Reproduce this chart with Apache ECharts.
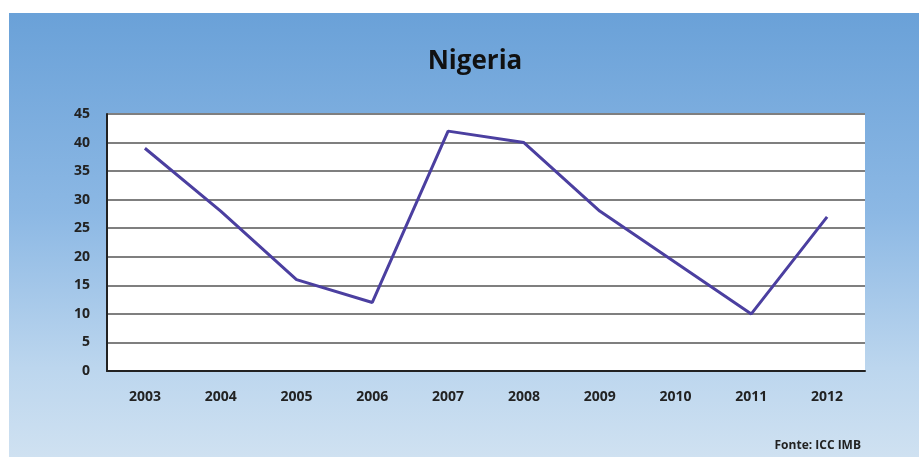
<!DOCTYPE html>
<html><head><meta charset="utf-8">
<script src="https://cdn.jsdelivr.net/npm/echarts@6/dist/echarts.min.js"></script>
<style>
html,body{margin:0;padding:0;background:#fff;width:919px;height:457px;overflow:hidden}
#c{position:absolute;left:9px;top:13px;width:910px;height:444px;background:linear-gradient(180deg,#6aa1d8 0%,#8cb8e4 45%,#bcd6ee 80%,#cfe1f1 100%)}
</style></head><body>
<div id="c"></div>
<script>
const years = ['2003','2004','2005','2006','2007','2008','2009','2010','2011','2012'];
const values = [39, 28, 16, 12, 42, 40, 28, 19, 10, 27];
const yTicks = {min:0, max:45, interval:5};

const chart = echarts.init(document.getElementById('c'), null, {renderer:'canvas'});
chart.setOption({
  animation:false,
  backgroundColor:'transparent',
  title:{text:'Nigeria', left:461, top:31, textAlign:'center',
    textStyle:{fontFamily:'Open Sans', fontWeight:'bold', fontSize:26, color:'#111'}},
  graphic:[{type:'text', right:58, top:427,
    style:{text:'Fonte: ICC IMB', font:'bold 12px "Open Sans"', fill:'#222'}}],
  grid:{left:98, right:54, top:101, bottom:86, show:true, backgroundColor:'#fff', borderWidth:0},
  xAxis:{type:'category', data:years, boundaryGap:true,
    axisLine:{lineStyle:{color:'#222', width:2}},
    axisTick:{show:false},
    axisLabel:{fontFamily:'Open Sans', fontWeight:'bold', fontSize:14, color:'#222', margin:19}},
  yAxis:{type:'value', min:yTicks.min, max:yTicks.max, interval:yTicks.interval,
    axisLine:{show:true, lineStyle:{color:'#222', width:2}},
    axisTick:{show:false},
    splitLine:{lineStyle:{color:'#7f7f7f', width:1.8}},
    axisLabel:{fontFamily:'Open Sans', fontWeight:'bold', fontSize:14, color:'#222', margin:17}},
  series:[{type:'line', data:values, symbol:'none',
    lineStyle:{color:'#4b3fa0', width:3}}]
});
</script></body></html>
